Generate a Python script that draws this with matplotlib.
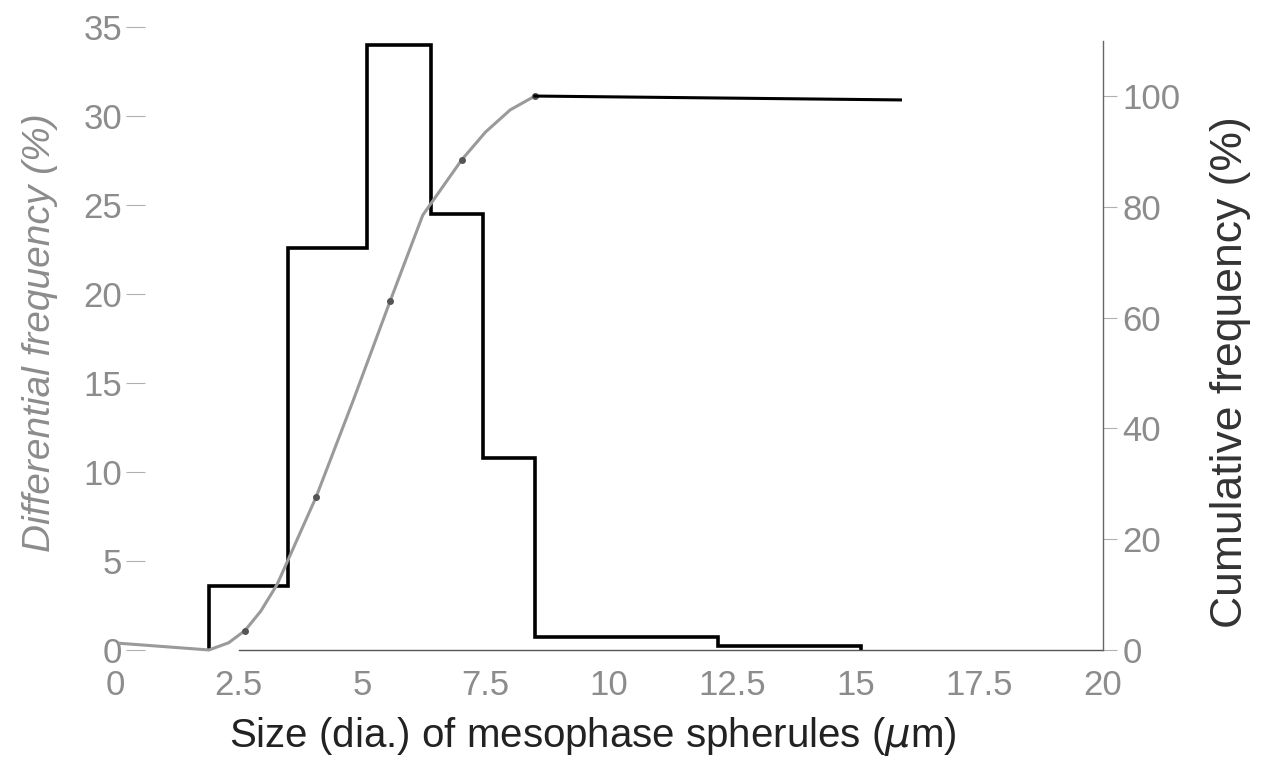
import matplotlib
matplotlib.use('Agg')
import matplotlib.pyplot as plt

# histogram of spherule sizes
bin_edges = [1.9, 3.5, 5.1, 6.4, 7.45, 8.5, 12.2, 15.1]
diff_freq = [3.6, 22.6, 34.0, 24.5, 10.8, 0.7, 0.2]

# cumulative curve (gray) and the measured points on it
cum_x = [0.1, 1.0, 1.9, 2.3, 2.63, 2.95, 3.28, 4.07, 4.82, 5.57, 6.23, 7.02, 7.5, 8.0, 8.5]
cum_y = [1.2, 0.6, 0.0, 1.3, 3.5, 7.0, 11.8, 27.6, 45.0, 63.0, 78.5, 88.5, 93.5, 97.5, 100.0]
dot_x = [2.63, 4.07, 5.57, 7.02, 8.5]
dot_y = [3.5, 27.6, 63.0, 88.5, 100.0]
plateau_x = [8.5, 15.9]
plateau_y = [100.0, 99.3]

x_ticks = [0, 2.5, 5, 7.5, 10, 12.5, 15, 17.5, 20]
x_labels = ['0', '2.5', '5', '7.5', '10', '12.5', '15', '17.5', '20']
left_ticks = [0, 5, 10, 15, 20, 25, 30, 35]
right_ticks = [0, 20, 40, 60, 80, 100]

plt.rcParams['font.family'] = ['Liberation Sans', 'DejaVu Sans']
grey = '#8c8c8c'

fig = plt.figure(figsize=(12.64, 7.77), dpi=100)
ax = fig.add_axes([0.091, 0.1635, 0.7816, 0.802])
ax2 = ax.twinx()

ax.stairs(diff_freq, bin_edges, color='black', linewidth=2.6, baseline=0)

ax2.plot(cum_x, cum_y, color='#9a9a9a', linewidth=2.2, clip_on=False)
ax2.plot(dot_x, dot_y, 'o', color='#555555', markersize=4)
ax2.plot(plateau_x, plateau_y, color='black', linewidth=2.2)

ax.set_xlim(0, 20)
ax.set_ylim(0, 35)
ax2.set_ylim(0, 112.5)

ax.set_xticks(x_ticks)
ax.set_xticklabels(x_labels)
ax.set_yticks(left_ticks)
ax2.set_yticks(right_ticks)

for s in ['top', 'left', 'right']:
    ax.spines[s].set_visible(False)
for s in ['top', 'left', 'bottom']:
    ax2.spines[s].set_visible(False)
# the left ticks sit a little inside x=0 in the scan
ax.spines['left'].set_position(('outward', -8))
ax.spines['bottom'].set_bounds(2.5, 20)
ax.spines['bottom'].set_color('#555555')
ax.spines['bottom'].set_linewidth(1.0)
ax2.spines['right'].set_bounds(0, 110)
ax2.spines['right'].set_color('#666666')
ax2.spines['right'].set_linewidth(1.0)

ax.tick_params(axis='x', length=0, labelsize=25, labelcolor=grey, pad=14)
ax.tick_params(axis='y', direction='in', length=14, color='#b0b0b0',
               labelsize=25, labelcolor=grey, pad=3)
ax2.tick_params(axis='y', direction='out', length=10, color='#b0b0b0',
                labelsize=25, labelcolor=grey, pad=4)

ax.set_xlabel('Size (dia.) of mesophase spherules ($\\mu$m)', fontsize=29,
              color='#222222')
ax.xaxis.set_label_coords(0.484, -0.104)
ax.set_ylabel('Differential frequency (%)', fontsize=28, style='italic',
              color=grey)
ax.yaxis.set_label_coords(-0.058, 0.51)
ax2.set_ylabel('Cumulative frequency (%)', fontsize=32, color='#333333')
ax2.yaxis.set_label_coords(1.108, 0.446)

fig.savefig('out.png', dpi=100)
